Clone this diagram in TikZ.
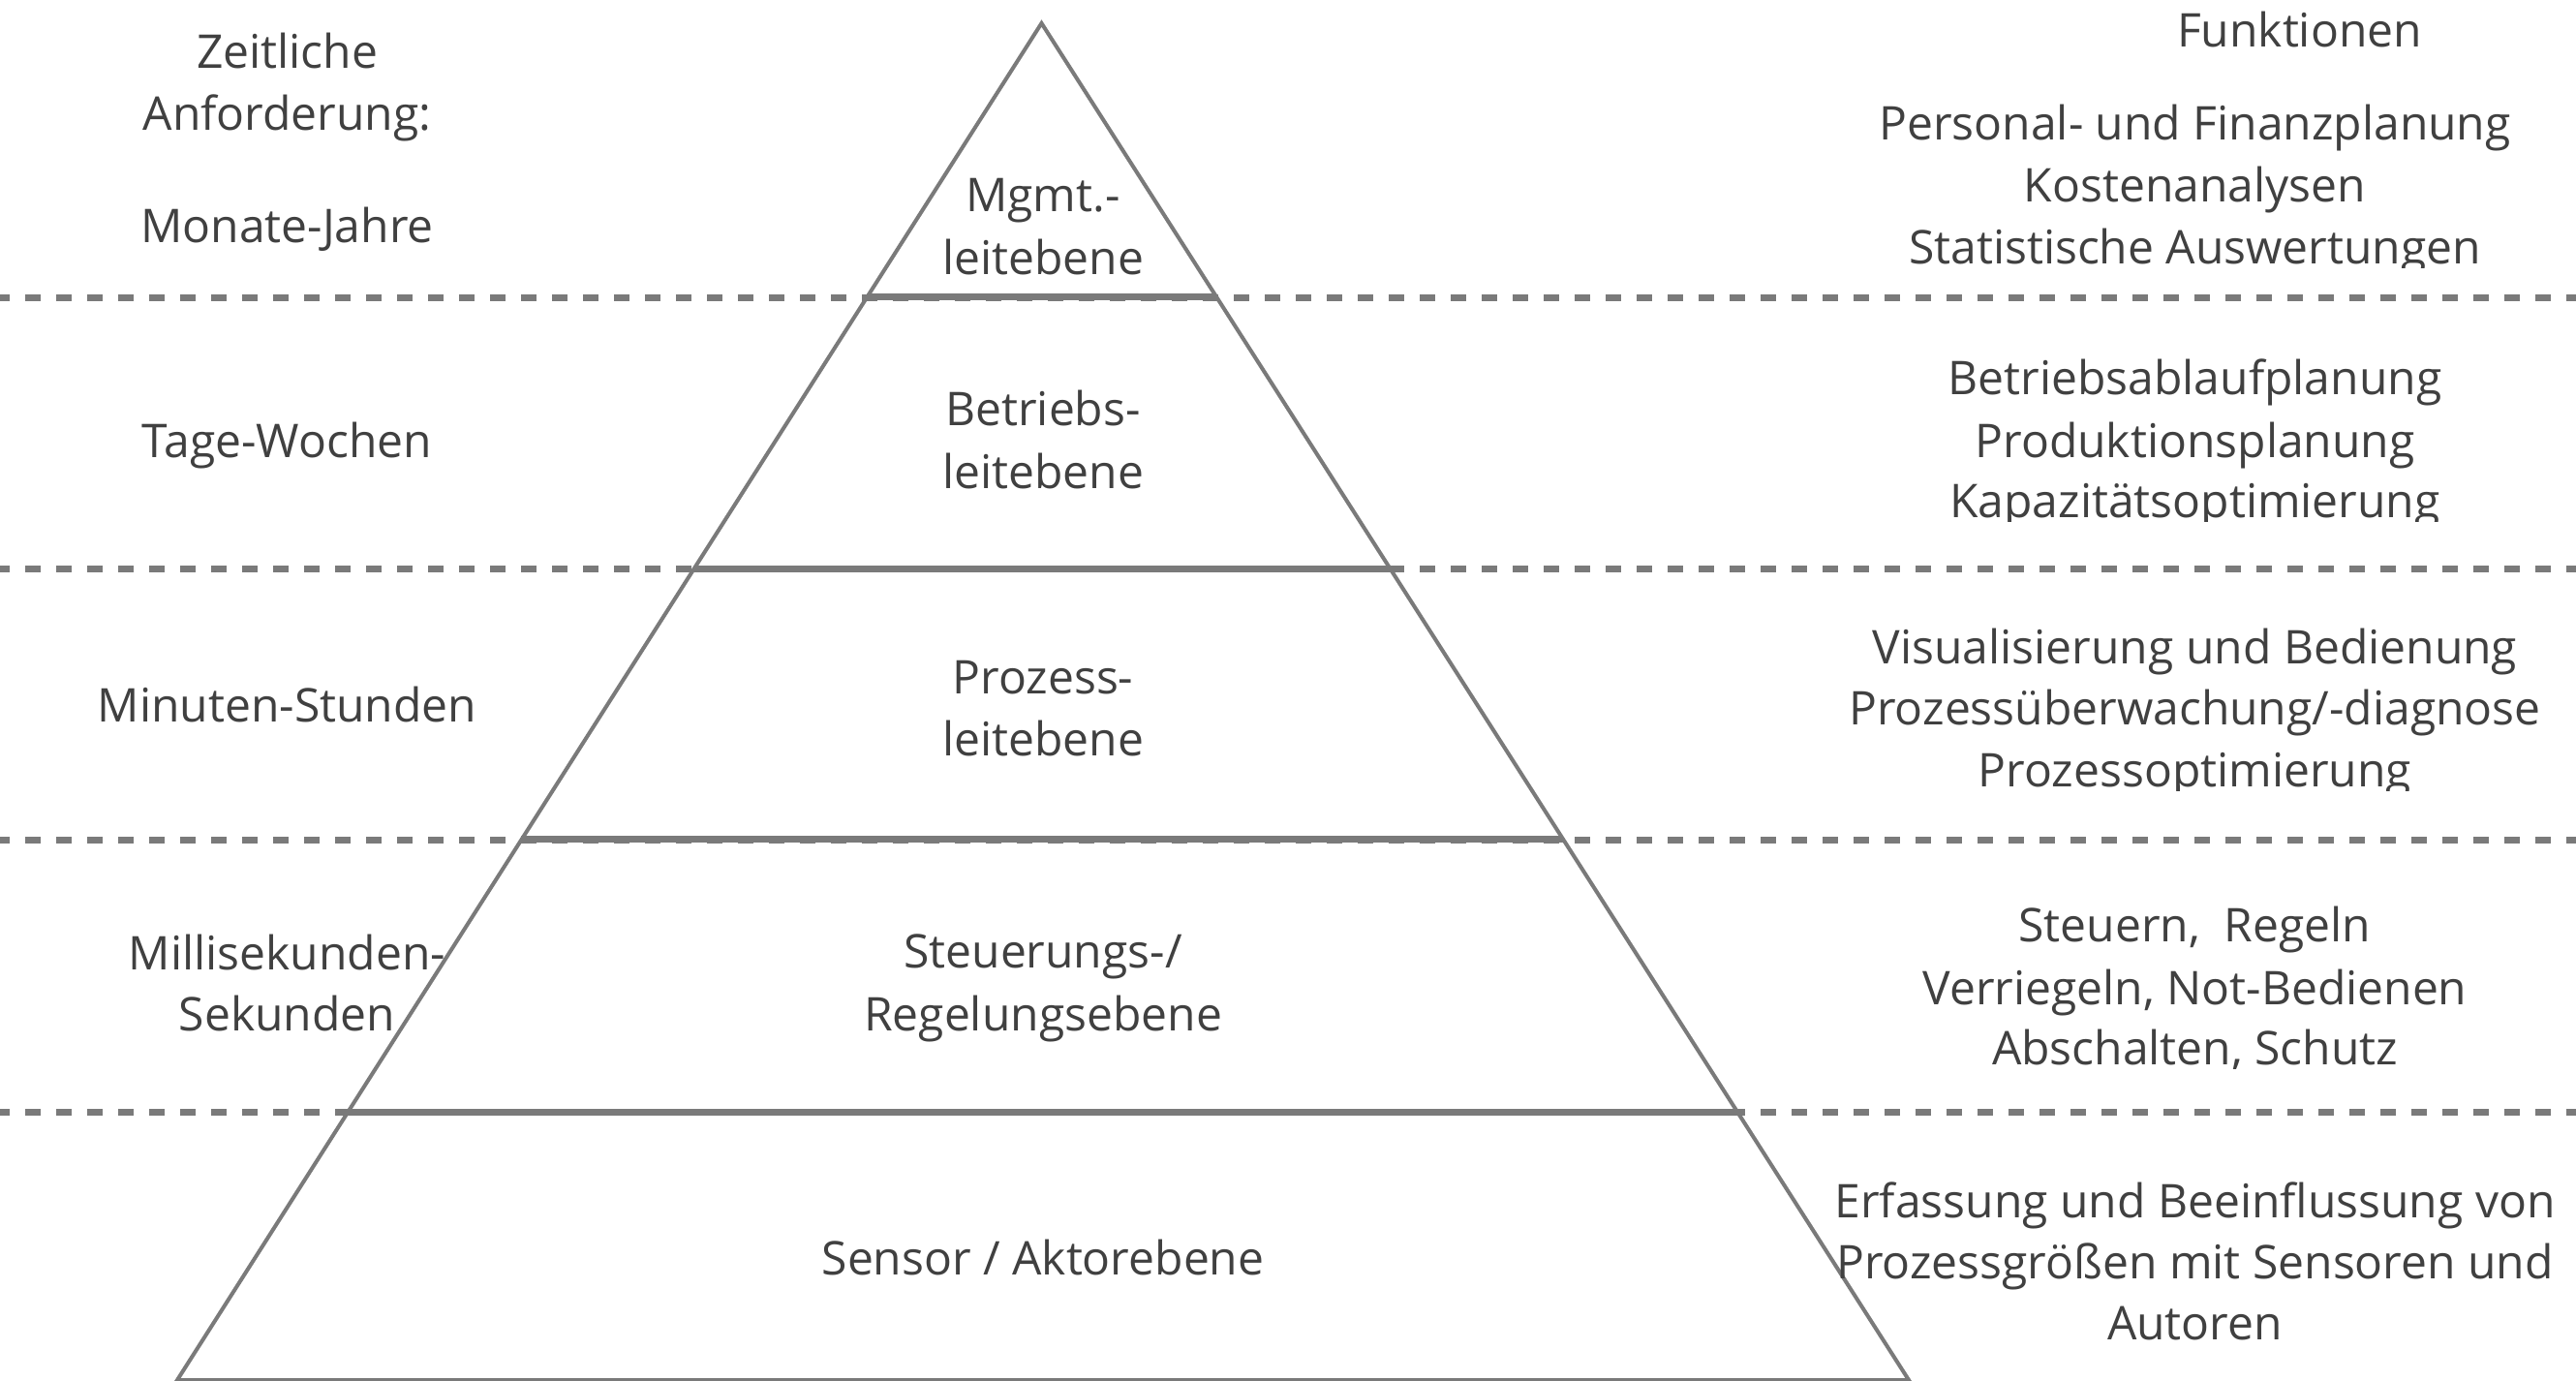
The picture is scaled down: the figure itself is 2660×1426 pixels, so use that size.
\documentclass[tikz,border=0pt]{standalone}
\usepackage{fontspec}
\setmainfont{Open Sans}
\usetikzlibrary{calc}
\definecolor{linegray}{HTML}{7A7A7A}
\definecolor{textgray}{HTML}{404040}
\tikzset{
  txt/.style={inner sep=0pt, anchor=base, xshift=1.5pt, text=textgray, font=\fontsize{48}{64}\selectfont},
  sideline/.style={draw=linegray, line width=4pt, line join=miter},
  levelline/.style={draw=linegray, line width=7pt},
  dashline/.style={draw=linegray, line width=7pt, dash pattern=on 16pt off 16pt, dash phase=6pt},
}
\begin{document}
\begin{tikzpicture}[x=1pt,y=-1pt]
\useasboundingbox[fill=white] (0,0) rectangle (2660,1426);
% pyramid corners
\coordinate (apex) at (1075.5,24);
\coordinate (bl) at (183,1425);
\coordinate (br) at (1971,1425);
% dashed separators
\foreach \n/\y in {1/307,2/587,3/867,4/1148}{
  \coordinate (dl\n) at (0,\y);
  \coordinate (dr\n) at (2660,\y);
}
\foreach \n in {1,2,3,4}{\draw[dashline] (dl\n) -- (dr\n);}
% level lines inside pyramid
\foreach \n/\t in {1/0.2020,2/0.4019,3/0.6017,4/0.8023}{
  \coordinate (ll\n) at ($(apex)!\t!(bl)$);
  \coordinate (lr\n) at ($(apex)!\t!(br)$);
}
\foreach \n in {1,2,3,4}{\draw[levelline] (ll\n) -- (lr\n);}
% pyramid outline
\draw[sideline] (bl) -- (apex) -- (br) -- cycle;

% left column
\node[txt] (z1) at (295,71) {Zeitliche};
\node[txt] (z2) at (295,135) {Anforderung:};
\node[txt] (t1) at (295,250) {Monate-Jahre};
\node[txt] (t2) at (295,472) {Tage-Wochen};
\node[txt] (t3) at (295,745) {Minuten-Stunden};
\node[txt] (t4a) at (295,1001) {Millisekunden-};
\node[txt] (t4b) at (295,1064) {Sekunden};

% center column
\node[txt] (c1a) at (1075.5,218) {Mgmt.-};
\node[txt] (c1b) at (1075.5,283) {leitebene};
\node[txt] (c2a) at (1075.5,439) {Betriebs-};
\node[txt] (c2b) at (1075.5,504) {leitebene};
\node[txt] (c3a) at (1075.5,716) {Prozess-};
\node[txt] (c3b) at (1075.5,780) {leitebene};
\node[txt] (c4a) at (1075.5,999) {Steuerungs-/};
\node[txt] (c4b) at (1075.5,1064) {Regelungsebene};
\node[txt] (c5) at (1075.5,1316) {Sensor / Aktorebene};

% right column
\node[txt] (fh) at (2373,49) {Funktionen};
\begin{scope}
\clip (1800,0) rectangle (2660,276);
\node[txt] (f1a) at (2265,145) {Personal- und Finanzplanung};
\node[txt] (f1b) at (2265,208) {Kostenanalysen};
\node[txt] (f1c) at (2265,272) {Statistische Auswertungen};
\end{scope}
\begin{scope}
\clip (1800,320) rectangle (2660,538);
\node[txt] (f2a) at (2265,407) {Betriebsablaufplanung};
\node[txt] (f2b) at (2265,472) {Produktionsplanung};
\node[txt] (f2c) at (2265,534) {Kapazitätsoptimierung};
\end{scope}
\begin{scope}
\clip (1800,600) rectangle (2660,816);
\node[txt] (f3a) at (2265,685) {Visualisierung und Bedienung};
\node[txt] (f3b) at (2265,748) {Prozessüberwachung/-diagnose};
\node[txt] (f3c) at (2265,812) {Prozessoptimierung};
\end{scope}
\begin{scope}
\clip (1800,880) rectangle (2660,1103);
\node[txt] (f4a) at (2265,972) {Steuern,~ Regeln};
\node[txt] (f4b) at (2265,1037) {Verriegeln, Not-Bedienen};
\node[txt] (f4c) at (2265,1099) {Abschalten, Schutz};
\end{scope}
\node[txt] (f5a) at (2265,1257) {Erfassung und Beeinflussung von};
\node[txt] (f5b) at (2265,1320) {Prozessgrößen mit Sensoren und};
\node[txt] (f5c) at (2265,1383) {Autoren};
\end{tikzpicture}
\end{document}
